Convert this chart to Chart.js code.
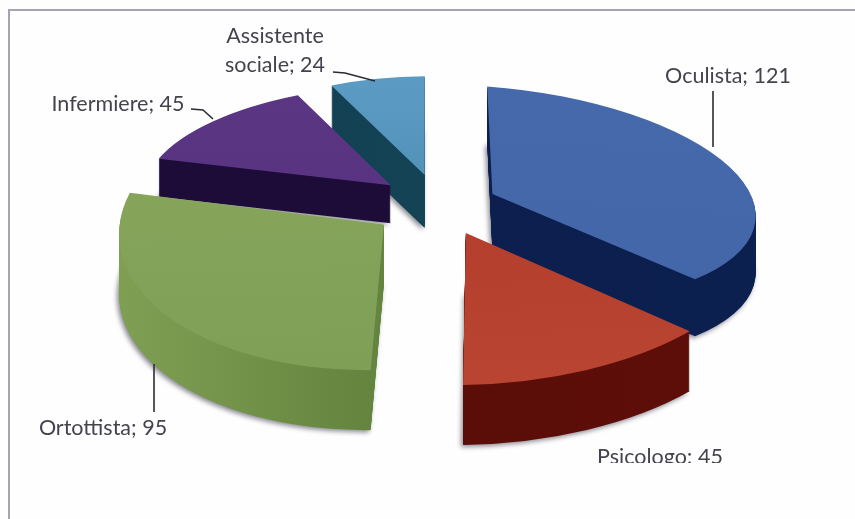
<!DOCTYPE html>
<html>
<head>
<meta charset="utf-8">
<title>Figure professionali</title>
<script src="https://cdn.jsdelivr.net/npm/chart.js@4/dist/chart.umd.min.js"></script>
<style>
  html, body { margin: 0; padding: 0; background: #fefefe; }
  canvas { display: block; filter: blur(0.5px); }
</style>
</head>
<body>
<canvas id="pie3d" width="855" height="519"></canvas>
<script>
const categories = ['Oculista', 'Psicologo', 'Ortottista', 'Infermiere', 'Assistente sociale'];
const values = [121, 45, 95, 45, 24];

// look of each slice, same order as categories
const topColors = [['#4569ab', '#4366a8'], ['#b23a2a', '#b84431'], ['#8aa85c', '#7f9f57'], ['#5b3683', '#573180'], ['#5b9ac2', '#4a89b0']];
const sideColors = [['#0b1d4d', '#0c2050'], ['#580c08', '#5e0e09'], ['#7fa053', '#48682a'], ['#1d0b38', '#1d0b38'], ['#123f52', '#164759']];
const explode = [268, 310, 236, 228, 200];   // Chart.js divides offset by 4
const radii = [246, 285, 263, 232, 202];
const tilt = [0.41, 0.50, 0.55, 0.41, 0.43];
const shear = [0.07, -0.02, -0.02, 0, 0];
const lean = [0.03, 0, -0.03, -0.08, -0.02];
const nudge = [[0, 3], [3, 0], [0, 6], [0, 2], [3, -2]];
const depth = [57, 60, 60, 38, 53];
const drawOrder = [4, 3, 0, 2, 1];           // back to front

// data labels: x, y of each text line, plus leader line points
const labelLayout = [
  { x: 728, y: 76, lines: null, leader: [[713, 91], [713, 147]] },
  { x: 660, y: 457, lines: null, leader: null },
  { x: 103, y: 428, lines: null, leader: [[154, 364], [154, 412]] },
  { x: 118, y: 104, lines: null, leader: [[191, 109], [203, 110], [213, 119]] },
  { x: 275, y: 36, lines: ['Assistente', 'sociale; ' + values[4]], leader: [[333, 72], [345, 73], [375, 81]] }
];

function horizontalGradient(ctx, left, right, colors) {
  const g = ctx.createLinearGradient(left, 0, right, 0);
  g.addColorStop(0, colors[0]);
  g.addColorStop(1, colors[1]);
  return g;
}

function verticalGradient(ctx, top, bottom, colors) {
  const g = ctx.createLinearGradient(0, top, 0, bottom);
  g.addColorStop(0, colors[0]);
  g.addColorStop(1, colors[1]);
  return g;
}

/**
 * Chart.js has no 3D pie, so squash each arc element on the canvas
 * and repeat it downwards in the dark colour to get the thickness.
 */
const pie3dPlugin = {
  id: 'pie3d',
  beforeDraw(chart) {
    const ctx = chart.ctx;
    ctx.save();
    ctx.fillStyle = '#fefefe';
    ctx.fillRect(0, 0, chart.width, chart.height);
    ctx.strokeStyle = '#a3a3b3';
    ctx.lineWidth = 2;
    ctx.beginPath();
    ctx.moveTo(9, chart.height);
    ctx.lineTo(9, 10);
    ctx.lineTo(chart.width, 10);
    ctx.stroke();
    ctx.restore();
  },
  beforeDatasetsDraw(chart) {
    const ctx = chart.ctx;
    const arcs = chart.getDatasetMeta(0).data;

    drawOrder.forEach(i => {
      const arc = arcs[i];
      const original = arc.options;
      arc.outerRadius = radii[i];

      const place = drop => {
        ctx.translate(arc.x + nudge[i][0], arc.y + nudge[i][1] + drop);
        ctx.transform(1, shear[i], lean[i], tilt[i], 0, 0);
        ctx.translate(-arc.x, -arc.y);
      };

      // thickness
      const side = horizontalGradient(ctx, arc.x - radii[i], arc.x + radii[i], sideColors[i]);
      for (let d = depth[i]; d > 0; d--) {
        ctx.save();
        place(d);
        if (d === depth[i]) {
          ctx.shadowColor = 'rgba(70, 70, 85, 0.65)';
          ctx.shadowBlur = 5;
          ctx.shadowOffsetX = -2;
          ctx.shadowOffsetY = 2;
        }
        arc.options = { ...original, backgroundColor: side };
        arc.draw(ctx);
        ctx.restore();
      }

      // top face
      ctx.save();
      place(0);
      const face = verticalGradient(ctx, arc.y - radii[i], arc.y + radii[i], topColors[i]);
      arc.options = { ...original, backgroundColor: face };
      arc.draw(ctx);
      ctx.restore();

      arc.options = original;
    });
    return false; // slices are done, skip the normal flat drawing
  },
  afterDraw(chart) {
    const ctx = chart.ctx;
    ctx.save();

    ctx.strokeStyle = '#2b2b33';
    ctx.lineWidth = 1.6;
    labelLayout.forEach(l => {
      if (!l.leader) return;
      ctx.beginPath();
      l.leader.forEach((p, n) => (n ? ctx.lineTo(p[0], p[1]) : ctx.moveTo(p[0], p[1])));
      ctx.stroke();
    });

    // the scan cuts off the bottom of the Psicologo label
    ctx.beginPath();
    ctx.rect(0, 0, chart.width, 463);
    ctx.clip();

    ctx.font = '21.5px Lato, "Open Sans", sans-serif';
    ctx.fillStyle = '#43434d';
    ctx.textAlign = 'center';
    ctx.textBaseline = 'middle';
    labelLayout.forEach((l, i) => {
      const lines = l.lines || [categories[i] + '; ' + values[i]];
      lines.forEach((text, n) => ctx.fillText(text, l.x, l.y + n * 29));
    });
    ctx.restore();
  }
};

new Chart(document.getElementById('pie3d').getContext('2d'), {
  type: 'pie',
  data: {
    labels: categories,
    datasets: [{
      data: values,
      offset: explode,
      backgroundColor: topColors.map(c => c[0]),
      borderWidth: 0
    }]
  },
  options: {
    responsive: false,
    animation: false,
    layout: { padding: { left: 9, bottom: 123 } },
    plugins: {
      legend: { display: false },
      tooltip: { enabled: false }
    }
  },
  plugins: [pie3dPlugin]
});
</script>
</body>
</html>
